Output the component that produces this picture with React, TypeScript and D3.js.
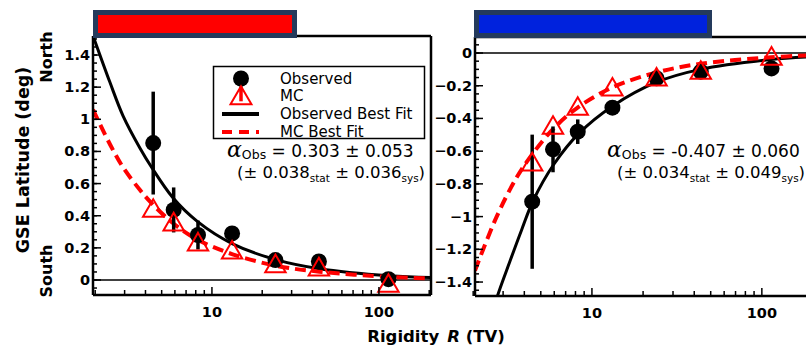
import * as d3 from 'd3';

const W = 806;
const H = 347;
const FONT = "'DejaVu Sans', Arial, sans-serif";

// rigidity bins (TV), shared by both hemispheres
const rigidity = [4.45, 5.9, 8.25, 13.2, 24, 43.7, 114];

// northern hemisphere (left panel)
const northObs = [0.852, 0.436, 0.28, 0.29, 0.124, 0.115, 0.005];
const northObsErr = [0.32, 0.14, 0.09, 0.04, 0.03, 0.03, 0.02];
const northMC = [0.43, 0.345, 0.22, 0.17, 0.085, 0.065, -0.037];
const northObsFitR = [1.94, 2.45, 2.94, 3.71, 4.36, 5.86, 8.17, 13.3, 24.4, 44, 116, 205];
const northObsFit = [1.52, 1.23, 1.02, 0.82, 0.7, 0.51, 0.365, 0.225, 0.125, 0.07, 0.026, 0.015];
const northMCFitR = [1.94, 2.45, 2.94, 3.71, 4.36, 5.86, 8.17, 13.3, 24.4, 44, 116, 205];
const northMCFit = [1.06, 0.845, 0.7, 0.56, 0.477, 0.353, 0.252, 0.16, 0.088, 0.052, 0.019, 0.01];

// southern hemisphere (right panel)
const southObs = [-0.909, -0.589, -0.481, -0.334, -0.155, -0.114, -0.094];
const southObsErr = [0.41, 0.14, 0.075, 0.04, 0.03, 0.03, 0.02];
const southMC = [-0.682, -0.458, -0.342, -0.224, -0.163, -0.122, -0.036];
const southObsFitR = [2.6, 2.75, 3.3, 3.86, 4.52, 5.97, 8.41, 13.2, 23.8, 43.5, 113, 200];
const southObsFit = [-1.6, -1.5, -1.27, -1.08, -0.9, -0.68, -0.49, -0.325, -0.18, -0.1, -0.04, -0.023];
const southMCFitR = [2.05, 2.75, 3.61, 4.52, 5.97, 8.2, 13.1, 23.8, 43.5, 113, 200];
const southMCFit = [-1.33, -1.0, -0.76, -0.61, -0.46, -0.335, -0.212, -0.12, -0.066, -0.026, -0.014];

// tick values
const northTicks = [0, 0.2, 0.4, 0.6, 0.8, 1, 1.2, 1.4];
const southTicks = [0, -0.2, -0.4, -0.6, -0.8, -1, -1.2, -1.4];
const xMajor = [10, 100];
const xMinor = [2, 3, 4, 5, 6, 7, 8, 9, 20, 30, 40, 50, 60, 70, 80, 90, 200];

const legendItems = ['Observed', 'MC', 'Observed Best Fit', 'MC Best Fit'];

type PanelProps = {
  id: string;
  x0: number; x1: number; top: number; bottom: number;
  xDomain: [number, number];
  yZeroPx: number; yStepPx: number; // pixel of 0 and of first tick
  ticks: number[];
  obs: number[]; obsErr: number[]; mc: number[];
  obsFitR: number[]; obsFit: number[]; mcFitR: number[]; mcFit: number[];
  header: [number, number]; headerFill: string;
  closeRight: boolean;
  labelX: number;
};

const fmt = (v: number) => (v < 0 ? '\u2212' : '') + String(+Math.abs(v).toFixed(1));

function Panel(p: PanelProps) {
  const x = d3.scaleLog().domain(p.xDomain).range([p.x0, p.x1]);
  const y = d3.scaleLinear().domain([0, p.ticks[1]]).range([p.yZeroPx, p.yStepPx]);
  const yMin = y.invert(p.bottom);
  const yMax = y.invert(p.top);
  const lo = Math.min(yMin, yMax), hi = Math.max(yMin, yMax);
  const minor = d3.range(Math.ceil(lo / 0.05), Math.floor(hi / 0.05) + 1).map(k => k * 0.05);

  const line = d3.line<[number, number]>()
    .x(d => x(d[0]))
    .y(d => y(d[1]))
    .curve(d3.curveCatmullRom.alpha(0.5));
  const obsLine = line(p.obsFitR.map((r, i) => [r, p.obsFit[i]] as [number, number])) || '';
  const mcLine = line(p.mcFitR.map((r, i) => [r, p.mcFit[i]] as [number, number])) || '';
  const tri = d3.symbol(d3.symbolTriangle, 180)() || '';
  const right = Math.min(p.x1, W + 2);

  return (
    <g>
      <defs>
        <clipPath id={`clip-${p.id}`}>
          <rect x={p.x0} y={p.top} width={p.x1 - p.x0} height={p.bottom - p.top} />
        </clipPath>
      </defs>
      {/* zero line */}
      <line x1={p.x0} x2={right} y1={y(0)} y2={y(0)} stroke="#000" strokeWidth={1.5} />
      {/* fits */}
      <g clipPath={`url(#clip-${p.id})`}>
        <path d={obsLine} fill="none" stroke="#000" strokeWidth={3} />
        <path d={mcLine} fill="none" stroke="#ff0000" strokeWidth={4} strokeDasharray="11,6" />
      </g>
      {/* error bars */}
      {rigidity.map((r, i) => (
        <line key={`e${i}`} x1={x(r)} x2={x(r)} y1={y(p.obs[i] - p.obsErr[i])} y2={y(p.obs[i] + p.obsErr[i])}
          stroke="#000" strokeWidth={3.5} />
      ))}
      {rigidity.map((r, i) => (
        <circle key={`o${i}`} cx={x(r)} cy={y(p.obs[i])} r={8} fill="#000" />
      ))}
      {rigidity.map((r, i) => (
        <path key={`m${i}`} d={tri} transform={`translate(${x(r)},${y(p.mc[i])})`}
          fill="none" stroke="#ff0000" strokeWidth={2} />
      ))}
      {/* frame */}
      <line x1={p.x0} x2={p.x0} y1={p.top} y2={p.bottom} stroke="#000" strokeWidth={2.5} />
      <line x1={p.x0} x2={right} y1={p.bottom} y2={p.bottom} stroke="#000" strokeWidth={2.5} />
      <line x1={p.x0} x2={right} y1={p.top} y2={p.top} stroke="#000" strokeWidth={2.5} />
      {p.closeRight && <line x1={p.x1} x2={p.x1} y1={p.top} y2={p.bottom} stroke="#000" strokeWidth={2.5} />}
      {/* y ticks */}
      {minor.map((v, i) => (
        <line key={`ym${i}`} x1={p.x0} x2={p.x0 + 4} y1={y(v)} y2={y(v)} stroke="#000" strokeWidth={1.5} />
      ))}
      {p.ticks.map(v => (
        <g key={`yt${v}`}>
          <line x1={p.x0} x2={p.x0 + 8} y1={y(v)} y2={y(v)} stroke="#000" strokeWidth={1.5} />
          <text x={p.labelX} y={y(v) + 5} textAnchor="end" fontFamily={FONT} fontWeight="bold" fontSize={14.5}>{fmt(v)}</text>
        </g>
      ))}
      {/* x ticks */}
      {xMinor.filter(r => x(r) < p.x1 - 1).map(r => (
        <line key={`xm${r}`} x1={x(r)} x2={x(r)} y1={p.bottom} y2={p.bottom - 5} stroke="#000" strokeWidth={1.5} />
      ))}
      {xMajor.map(r => (
        <g key={`xt${r}`}>
          <line x1={x(r)} x2={x(r)} y1={p.bottom} y2={p.bottom - 8} stroke="#000" strokeWidth={1.5} />
          <text x={x(r)} y={p.bottom + 22} textAnchor="middle" fontFamily={FONT} fontWeight="bold" fontSize={14.5}>{r}</text>
        </g>
      ))}
      {/* header bar */}
      <rect x={p.header[0] + 2.5} y={12.5} width={p.header[1] - p.header[0] - 5} height={23}
        fill={p.headerFill} stroke="#243a5c" strokeWidth={5} />
    </g>
  );
}

function Annotation({ x, y, value, stat, sys }: { x: number; y: number; value: string; stat: string; sys: string }) {
  return (
    <g fontFamily={FONT} fill="#000">
      <text x={x} y={y} fontSize={17}>
        <tspan fontFamily="'DejaVu Serif', serif" fontStyle="italic" fontSize={22}>α</tspan>
        <tspan fontSize={12.5} dy={2}>Obs</tspan>
        <tspan dy={-2}>{` = ${value}`}</tspan>
      </text>
      <text x={x + 10} y={y + 21} fontSize={16.5}>
        <tspan>{`(± ${stat}`}</tspan>
        <tspan fontSize={10.5} dy={4}>stat</tspan>
        <tspan dy={-4}>{` ± ${sys}`}</tspan>
        <tspan fontSize={10.5} dy={4}>sys</tspan>
        <tspan dy={-4}>)</tspan>
      </text>
    </g>
  );
}

function Legend() {
  const lx = 213.5, ly = 66.5, lw = 211, lh = 72;
  const row = (i: number) => ly + 12 + i * 17.8;
  const sx = 241;
  const tri = d3.symbol(d3.symbolTriangle, 190)() || '';
  return (
    <g>
      <rect x={lx} y={ly} width={lw} height={lh} fill="#fff" stroke="#000" strokeWidth={1.5} />
      <line x1={sx} x2={sx} y1={row(0)} y2={row(0) + 13} stroke="#000" strokeWidth={3} />
      <circle cx={sx} cy={row(0)} r={8} fill="#000" />
      <line x1={sx} x2={sx} y1={row(1) - 9} y2={row(1) + 5} stroke="#ff0000" strokeWidth={3.5} />
      <path d={tri} transform={`translate(${sx},${row(1) + 2})`} fill="none" stroke="#ff0000" strokeWidth={2} />
      <line x1={sx - 19} x2={sx + 18} y1={row(2)} y2={row(2)} stroke="#000" strokeWidth={4} />
      <line x1={sx - 19} x2={sx + 18} y1={row(3)} y2={row(3)} stroke="#ff0000" strokeWidth={4} strokeDasharray="10,7" />
      {legendItems.map((t, i) => (
        <text key={t} x={280} y={row(i) + 5} fontFamily={FONT} fontSize={15}>{t}</text>
      ))}
    </g>
  );
}

export default function App() {
  return (
    <svg width={W} height={H} style={{ position: 'absolute', left: 0, top: 0, background: '#fff' }}>
      <rect width={W} height={H} fill="#fff" />
      <Panel id="n" x0={93} x1={431} top={36} bottom={295} xDomain={[1.94, 205]}
        yZeroPx={280} yStepPx={280 - 0.2 * 160.7} ticks={northTicks}
        obs={northObs} obsErr={northObsErr} mc={northMC}
        obsFitR={northObsFitR} obsFit={northObsFit} mcFitR={northMCFitR} mcFit={northMCFit}
        header={[93, 297]} headerFill="#ff0000" closeRight={true} labelX={90} />
      <Panel id="s" x0={475} x1={813} top={37} bottom={296} xDomain={[2.05, 200]}
        yZeroPx={53} yStepPx={53 + 0.2 * 163.6} ticks={southTicks}
        obs={southObs} obsErr={southObsErr} mc={southMC}
        obsFitR={southObsFitR} obsFit={southObsFit} mcFitR={southMCFitR} mcFit={southMCFit}
        header={[474, 712]} headerFill="#0022dd" closeRight={false} labelX={472} />
      <Legend />
      <Annotation x={227} y={157} value="0.303 ± 0.053" stat="0.038" sys="0.036" />
      <Annotation x={607} y={157} value="-0.407 ± 0.060" stat="0.034" sys="0.049" />
      {/* axis titles */}
      <text transform="translate(29,160) rotate(-90)" textAnchor="middle" fontFamily={FONT} fontWeight="bold" fontSize={17.5}>GSE Latitude (deg)</text>
      <text transform="translate(52,57) rotate(-90)" textAnchor="middle" fontFamily={FONT} fontWeight="bold" fontSize={16}>North</text>
      <text transform="translate(52,271) rotate(-90)" textAnchor="middle" fontFamily={FONT} fontWeight="bold" fontSize={16}>South</text>
      <text x={436} y={342} textAnchor="middle" fontFamily={FONT} fontWeight="bold" fontSize={16.5}>
        <tspan>Rigidity</tspan>
        <tspan dx={8} fontStyle="italic">R</tspan>
        <tspan> (TV)</tspan>
      </text>
    </svg>
  );
}
